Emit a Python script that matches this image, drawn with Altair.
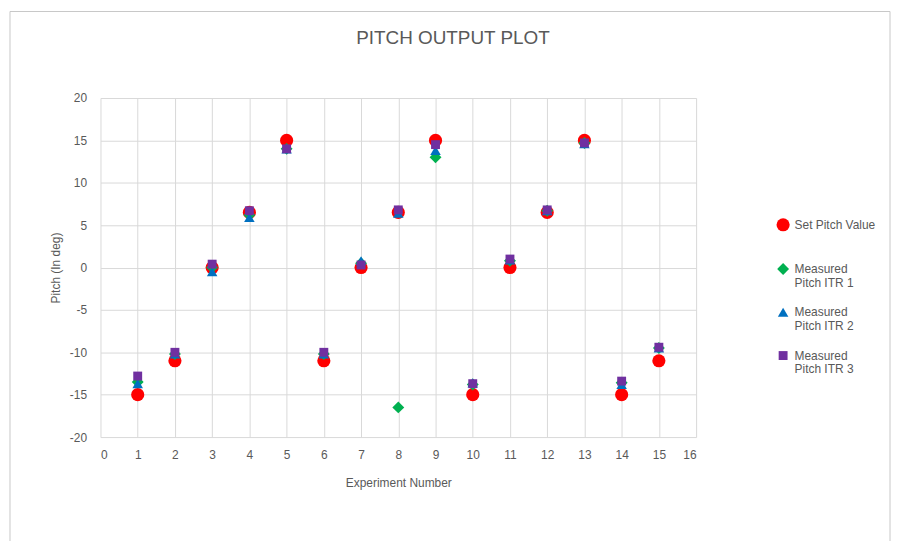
import altair as alt
import pandas as pd

experiments = list(range(1, 16))
set_pitch = [-15, -11, 0, 6.5, 15, -11, 0, 6.5, 15, -15, 0, 6.5, 15, -15, -11]
itr1 = [-13.5, -10.2, 0, 6.2, 14, -10.2, 0.5, -16.5, 13, -13.8, 0.8, 6.7, 14.7, -13.6, -9.5]
itr2 = [-13.7, -10.2, -0.5, 5.9, 14, -10.2, 0.8, 6.4, 13.8, -13.6, 0.9, 6.7, 14.6, -13.8, -9.5]
itr3 = [-12.8, -10, 0.4, 6.7, 14, -10, 0.3, 6.8, 14.5, -13.7, 1.0, 6.8, 14.7, -13.4, -9.4]
series_names = ["Set Pitch Value\n ", "Measured\nPitch ITR 1", "Measured\nPitch ITR 2", "Measured\nPitch ITR 3"]
series_colors = ["#FF0000", "#00B050", "#0070C0", "#7030A0"]
series_shapes = ["circle", "diamond", "triangle-up", "square"]
series_sizes = [175, 80, 100, 170]

rows = []
for k, vals in enumerate([set_pitch, itr1, itr2, itr3]):
    for e, v in zip(experiments, vals):
        rows.append({"exp": e, "pitch": v, "series": series_names[k], "ord": k})
df = pd.DataFrame(rows)

FONT = "Liberation Sans, Arial"
GREY = "#595959"

points = alt.Chart(df).mark_point(filled=True, opacity=1).encode(
    x=alt.X("exp:Q", scale=alt.Scale(domain=[0, 16], nice=False),
            axis=alt.Axis(values=list(range(0, 17)), title="Experiment Number", grid=True,
                          labelExpr="toString(datum.value)",
                          domain=False, ticks=False, labelPadding=13, titlePadding=17)),
    y=alt.Y("pitch:Q", scale=alt.Scale(domain=[-20, 20], nice=False),
            axis=alt.Axis(values=list(range(-20, 21, 5)), title="Pitch (In deg)", grid=True,
                          labelExpr="toString(datum.value)",
                          domain=False, ticks=False, labelPadding=14, titlePadding=7)),
    color=alt.Color("series:N", scale=alt.Scale(domain=series_names, range=series_colors),
                    legend=alt.Legend(title=None, orient="none", legendX=679, legendY=120,
                                      labelExpr="split(datum.label, '\\n')",
                                      symbolSize=50, rowPadding=17, labelFontSize=12,
                                      labelColor=GREY, labelFont=FONT, labelLimit=200,
                                      labelOffset=4)),
    shape=alt.Shape("series:N", scale=alt.Scale(domain=series_names, range=series_shapes)),
    size=alt.Size("series:N", scale=alt.Scale(domain=series_names, range=series_sizes), legend=None),
    order=alt.Order("ord:Q"),
)

frame = alt.Chart(pd.DataFrame({"a": [0]})).mark_rect(fill=None, stroke="#C8C8C8", strokeWidth=1).encode(
    x=alt.value(-91), x2=alt.value(794), y=alt.value(-87), y2=alt.value(460)
)

chart = alt.layer(frame, points).properties(
    width=599, height=341,
    title=alt.TitleParams("PITCH OUTPUT PLOT", fontSize=19, fontWeight="normal", color=GREY,
                          font=FONT, offset=-37, dx=55),
    autosize=alt.AutoSizeParams(type="none"),
    padding={"left": 93, "top": 89, "right": 196, "bottom": 103},
).configure_view(stroke=None).configure_axis(
    gridColor="#D9D9D9", labelColor=GREY, titleColor=GREY, labelFont=FONT, titleFont=FONT,
    labelFontSize=12, titleFontSize=12, titleFontWeight="normal"
)

chart.save("out.html", embed_options={"renderer": "svg", "actions": False})
